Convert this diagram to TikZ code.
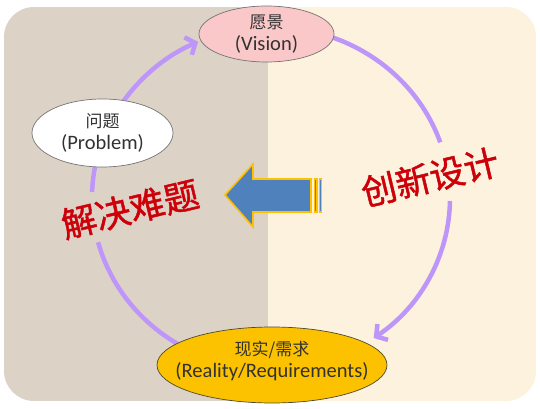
\documentclass[tikz,border=0pt]{standalone}
\usepackage{fontspec}
\setmainfont{Carlito}
\newfontfamily\cjk{Noto Sans CJK SC}
\newfontfamily\cjkbig[FakeBold=1.3]{Noto Sans CJK SC}
\usetikzlibrary{shapes.geometric,arrows.meta,calc}
\definecolor{bgleft}{RGB}{220,211,198}
\definecolor{bgright}{RGB}{252,242,222}
\definecolor{flowc}{RGB}{190,150,250}
\definecolor{visionc}{RGB}{250,200,200}
\definecolor{realc}{RGB}{252,194,0}
\definecolor{redtxt}{RGB}{205,0,10}
\definecolor{bluearr}{RGB}{79,129,189}
\definecolor{goldarr}{RGB}{255,192,0}
\definecolor{txtc}{RGB}{50,50,50}
\tikzset{
  stage/.style={ellipse, draw=black!55, line width=0.7pt, inner sep=0pt},
  stagetext/.style={align=center, inner sep=0pt, text=txtc, font=\fontsize{20.5}{24}\selectfont},
  flow/.style={draw=flowc, line width=4.5pt},
  flowarr/.style={flow, -{Straight Barb[length=8pt,width=19pt,line width=4.5pt]}},
  bigword/.style={text=redtxt, font=\cjkbig\fontsize{35}{40}\selectfont, rotate=13.5},
  blockarr/.style={fill=bluearr, draw=goldarr, line width=1.6pt, line join=miter},
  ring/.style={x radius=179pt, y radius=171pt}
}
\newcommand{\zh}[1]{{\cjk\fontsize{17}{24}\selectfont #1}}
\begin{document}
\begin{tikzpicture}[x=1pt,y=1pt]
\useasboundingbox (0,0) rectangle (540,409);
% background
\begin{scope}
  \clip[rounded corners=30pt] (4,8) rectangle (536,402);
  \fill[bgleft] (4,8) rectangle (268,402);
  \fill[bgright] (268,8) rectangle (536,402);
\end{scope}
\coordinate (C) at (271,211);
% cycle arcs
\draw[flow] ($(C)+(72:179pt and 171pt)$) arc[start angle=72, end angle=19, ring];
\draw[flowarr] ($(C)+(-1:179pt and 171pt)$) arc[start angle=-1, end angle=-55, ring];
\draw[flow] ($(C)+(240:179pt and 171pt)$) arc[start angle=240, end angle=195, ring];
\draw[flow] ($(C)+(178:179pt and 171pt)$) arc[start angle=178, end angle=168, ring];
\draw[flowarr] ($(C)+(147:179pt and 171pt)$) arc[start angle=147, end angle=114, ring];
% stages
\node[stage, fill=visionc, minimum width=135pt, minimum height=56pt] (vision) at (266.5,375) {};
\node[stagetext] (visiont) at (vision.center) {\zh{愿景}\\[-2pt](Vision)};
\node[stage, fill=white, minimum width=141pt, minimum height=68pt] (problem) at (102.5,276) {};
\node[stagetext] (problemt) at (problem.center) {\zh{问题}\\[-2pt](Problem)};
\node[stage, fill=realc, draw=black!60!olive, minimum width=230pt, minimum height=76pt] (reality) at (272,44) {};
\node[stagetext] (realityt) at ([yshift=4pt]reality.center) {\zh{现实/需求}\\[-2pt](Reality/Requirements)};
% block arrow
\draw[blockarr] (225,214) -- (253,245) -- (253,230) -- (311,230) -- (311,197) -- (253,197) -- (253,182) -- cycle;
\draw[blockarr, line width=1.2pt] (314.5,230) rectangle (317,197);
\draw[blockarr, line width=1.2pt] (319.5,230) rectangle (321.5,197);
% labels
\node[bigword] (solve) at (130,200) {解决难题};
\node[bigword] (design) at (430,232) {创新设计};
\end{tikzpicture}
\end{document}
